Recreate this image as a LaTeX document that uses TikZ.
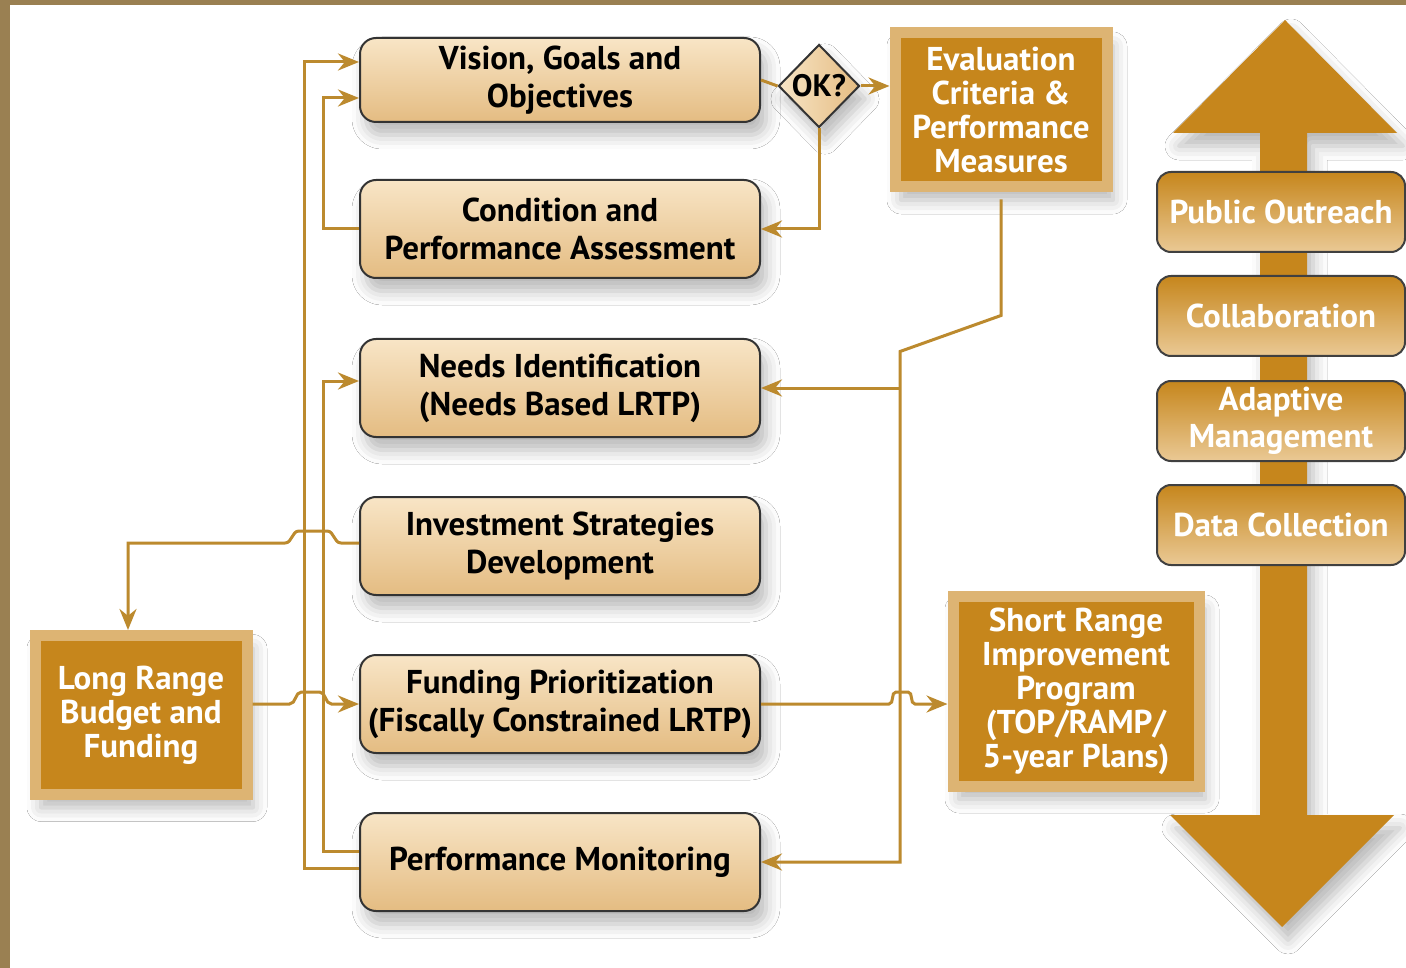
\documentclass[tikz,border=0pt]{standalone}
\usepackage{fontspec}
\setmainfont{PT Sans}
\usetikzlibrary{shapes.geometric,arrows.meta,shadows.blur}

\definecolor{gold}{HTML}{C6861C}
\definecolor{goldlight}{HTML}{DDB473}
\definecolor{cream}{HTML}{F8E5C6}
\definecolor{tan}{HTML}{E4BC82}
\definecolor{wire}{HTML}{BC8A2E}
\definecolor{bark}{HTML}{9A8052}
\definecolor{barlow}{HTML}{EAC995}

\tikzset{
  soft/.style={blur shadow={shadow xshift=6pt, shadow yshift=-13pt, shadow blur radius=14pt, shadow opacity=28}},
  stage/.style={rectangle, rounded corners=16pt, draw=black!80, line width=2pt,
    top color=cream, bottom color=tan, minimum width=400pt, minimum height=98pt,
    inner sep=2pt, align=center, font=\fontsize{33}{38}\selectfont\bfseries, soft},
  goldbox/.style={rectangle, fill=gold, draw=goldlight, line width=11pt, text=white,
    align=center, inner sep=0pt, font=\fontsize{33}{34}\selectfont\bfseries, soft},
  barbox/.style={rectangle, rounded corners=14pt, draw=black!75, line width=2pt,
    top color=gold, bottom color=barlow, text=white, minimum width=248pt,
    minimum height=80pt, inner sep=0pt, align=center,
    font=\fontsize{33}{37}\selectfont\bfseries},
  wire/.style={draw=wire, line width=3pt},
  arr/.style={wire, -{Stealth[length=21pt,width=17pt]}}
}

\begin{document}
\begin{tikzpicture}[x=1pt, y=-1pt]
    % Page and frame strips
    \useasboundingbox (0,0) rectangle (1406,968);
    \fill[white] (0,0) rectangle (1406,968);
    \fill[bark] (0,0) rectangle (1406,5);
    \fill[bark] (0,0) rectangle (10,968);

    % Planning stages
    \node[stage, minimum height=84pt] (vision) at (560,80) {Vision, Goals and\\Objectives};
    \node[stage] (cond) at (560,229) {Condition and\\Performance Assessment};
    \node[stage] (needs) at (560,388) {Needs Identification\\(Needs Based LRTP)};
    \node[stage] (invest) at (560,546) {Investment Strategies\\Development};
    \node[stage] (fund) at (560,704) {Funding Prioritization\\(Fiscally Constrained LRTP)};
    \node[stage] (perf) at (560,862) {Performance Monitoring};

    % Decision
    \node[diamond, draw=black!80, line width=2pt, left color=cream, right color=tan,
        minimum width=81pt, minimum height=83pt, inner sep=0pt, soft,
        font=\fontsize{31}{34}\selectfont\bfseries] (ok) at (819,86) {OK?};

    % Gold boxes
    \node[goldbox, minimum width=212pt, minimum height=154pt] (eval) at (1001,110)
        {Evaluation\\Criteria \&\\Performance\\Measures};
    \node[goldbox, minimum width=212pt, minimum height=159pt] (long) at (141,715)
        {Long Range\\Budget and\\Funding};
    \node[goldbox, minimum width=246pt, minimum height=190pt] (short) at (1076,691)
        {Short Range\\Improvement\\Program\\(TOP/RAMP/\\5-year Plans)};

    % Double arrow on the right
    \fill[gold, soft] (1285,20) -- (1397,133) -- (1307,133) -- (1307,815) -- (1394,815)
        -- (1282,927) -- (1170,815) -- (1260,815) -- (1260,133) -- (1173,133) -- cycle;
    \node[barbox] (outreach) at (1281,212) {Public Outreach};
    \node[barbox] (collab) at (1281,316) {Collaboration};
    \node[barbox] (adapt) at (1281,421) {Adaptive\\Management};
    \node[barbox] (data) at (1281,525) {Data Collection};

    % Connectors
    \draw[wire] (vision.east) -- (ok.west);
    \draw[arr] (ok.east) -- (eval.west |- ok.east);
    \draw[arr] (ok.south) |- (cond.east);
    \draw[arr] (cond.west) -- ++(-36,0) |- ([yshift=-18pt]vision.west);
    \draw[arr] ([yshift=-6pt]perf.west) -- ++(-55,0) |- ([yshift=18pt]vision.west);
    \draw[arr] ([yshift=11pt]perf.west) -- ++(-36,0) |- ([yshift=7pt]needs.west);

    % Lines that hop over the two feedback lines
    \draw[arr] ([yshift=3pt]invest.west) -- ++(-18,0) to[out=180,in=0] ++(-14,-12)
        -- ++(-28,0) to[out=180,in=0] ++(-14,12) -| ([xshift=-13pt]long.north);
    \draw[arr] (long.east |- fund.west) -- ++(37,0) to[out=0,in=180] ++(12,-12)
        -- ++(18,0) to[out=0,in=180] ++(12,12) -- (fund.west);
    \draw[arr] (fund.east) -- ++(128,0) to[out=0,in=180] ++(7,-12) -- ++(12,0)
        to[out=0,in=180] ++(7,12) -- (short.west |- fund.east);

    % Evaluation feeds back
    \draw[arr] ([yshift=-7pt]eval.south) -- ++(0,116) -- ++(-101,36) coordinate (drop)
        |- (perf.east);
    \draw[arr] (drop |- needs.east) -- (needs.east);
\end{tikzpicture}
\end{document}
